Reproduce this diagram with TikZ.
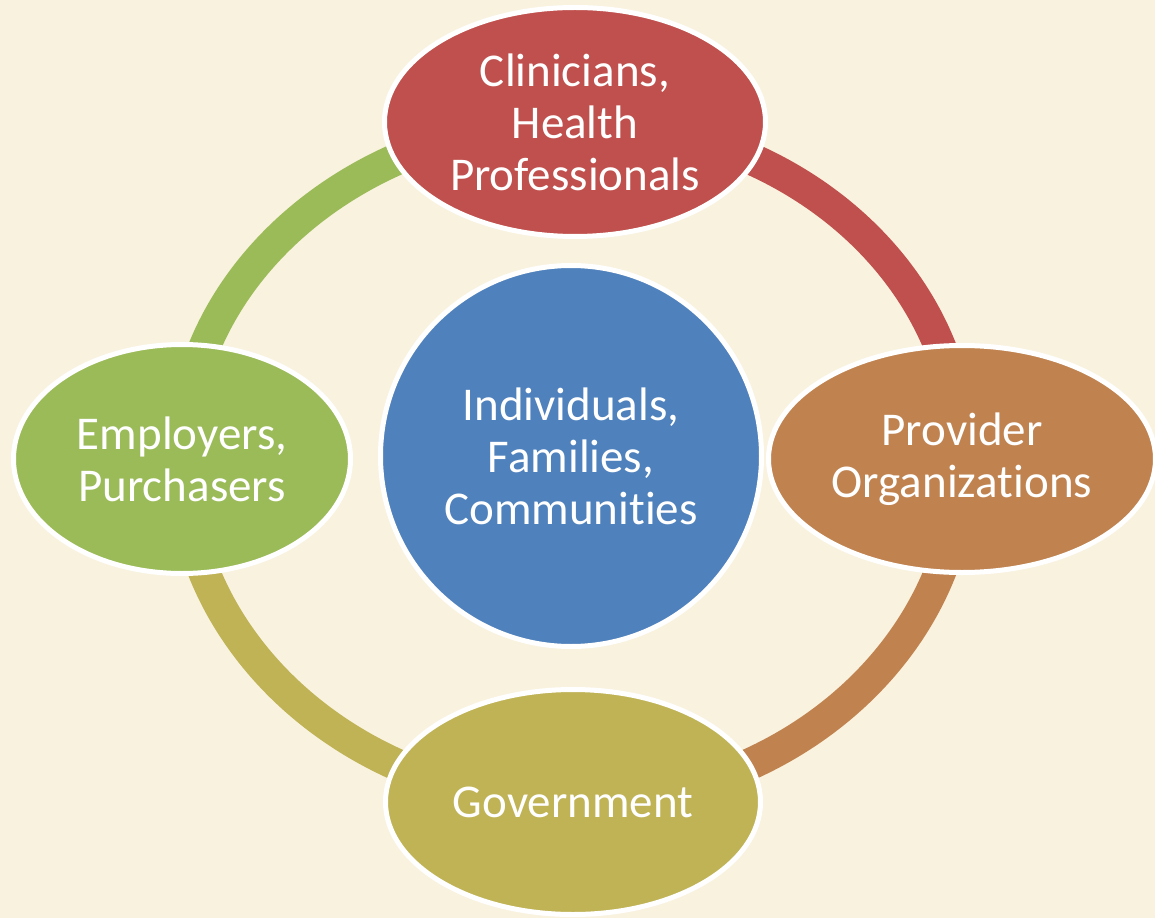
\documentclass[tikz,border=0pt]{standalone}
\usepackage{fontspec}
\setmainfont{Carlito}[Ligatures={NoCommon}]
\usepackage{xcolor}
\usepackage{tikz}
\usetikzlibrary{shapes.geometric,backgrounds}

\definecolor{cream}{RGB}{249,242,223}
\definecolor{hubBlue}{RGB}{79,129,189}
\definecolor{clinRed}{RGB}{192,80,77}
\definecolor{provOrange}{RGB}{192,131,80}
\definecolor{govOlive}{RGB}{191,179,86}
\definecolor{emplGreen}{RGB}{155,187,89}

\begin{document}
\begin{tikzpicture}[
  x=1pt, y=1pt,
  party/.style={ellipse, draw=white, line width=5pt, inner sep=0pt, align=center, text=white,
    font=\fontsize{47}{52}\selectfont},
  hub/.style={party, circle, minimum size=381pt},
  ring/.style={line width=32pt}
]
  \useasboundingbox (-572,-461) rectangle (583,457);

  \node[hub, fill=hubBlue] (indiv) at (-1,1) {Individuals,\\Families,\\Communities};
  \node[party, fill=clinRed, minimum width=381pt, minimum height=229pt] (clin) at (3,335) {Clinicians,\\Health\\Professionals};
  \node[party, fill=provOrange, minimum width=387pt, minimum height=227pt] (prov) at (390,-2) {Provider\\Organizations};
  \node[party, fill=govOlive, minimum width=375pt, minimum height=225pt] (gov) at (1,-345) {Government};
  \node[party, fill=emplGreen, minimum width=337pt, minimum height=229pt] (empl) at (-390,-2) {Employers,\\Purchasers};

  \begin{scope}[on background layer]
    \fill[cream] (-572,-461) rectangle (583,457);
    \draw[ring, emplGreen] (empl.center) .. controls +(0,186) and +(-214,0) .. (clin.center);
    \draw[ring, clinRed] (clin.center) .. controls +(214,0) and +(0,186) .. (prov.center);
    \draw[ring, provOrange] (prov.center) .. controls +(0,-188) and +(214,0) .. (gov.center);
    \draw[ring, govOlive] (gov.center) .. controls +(-214,0) and +(0,-188) .. (empl.center);
  \end{scope}
\end{tikzpicture}
\end{document}
